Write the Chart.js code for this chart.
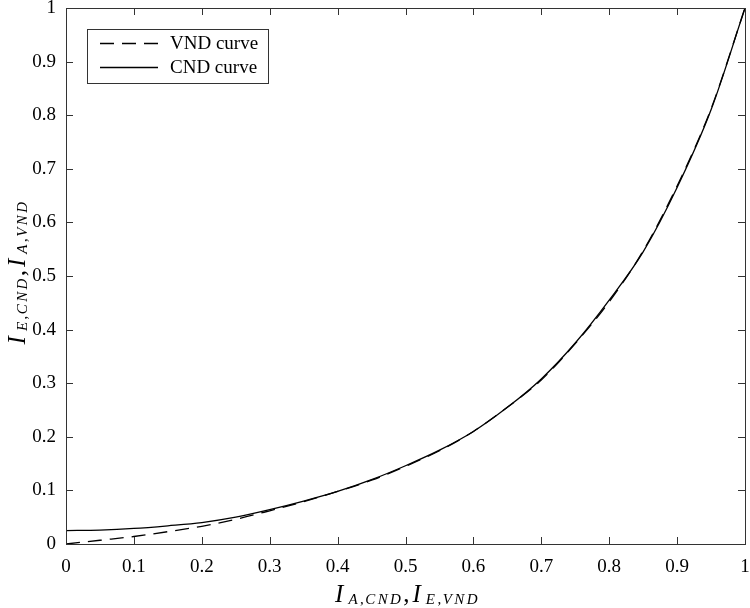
<!DOCTYPE html>
<html><head><meta charset="utf-8">
<script src="https://cdn.jsdelivr.net/npm/chart.js@4.4.0/dist/chart.umd.min.js"></script>
<style>html,body{margin:0;padding:0;background:#fff;}canvas{display:block;}</style>
</head><body>
<canvas id="c" width="750" height="608"></canvas>
<script>
// ---- data ----
const xValues   = [0, 0.05, 0.1, 0.15, 0.2, 0.25, 0.3, 0.35, 0.4, 0.45, 0.5, 0.55, 0.6, 0.65, 0.7, 0.75, 0.8, 0.85, 0.9, 0.95, 1.0];
const vndValues = [0, 0.007, 0.014, 0.023, 0.033, 0.046, 0.062, 0.079, 0.098, 0.119, 0.145, 0.174, 0.210, 0.255, 0.306, 0.374, 0.452, 0.547, 0.668, 0.812, 1.0];
const cndValues = [0.025, 0.026, 0.029, 0.034, 0.040, 0.050, 0.064, 0.080, 0.098, 0.120, 0.146, 0.175, 0.210, 0.255, 0.308, 0.375, 0.455, 0.545, 0.665, 0.810, 1.0];
const seriesNames = ['VND curve', 'CND curve'];
const xTickLabels = ['0','0.1','0.2','0.3','0.4','0.5','0.6','0.7','0.8','0.9','1'];
const yTickLabels = ['0','0.1','0.2','0.3','0.4','0.5','0.6','0.7','0.8','0.9','1'];
const xTitleParts = [{t:'I', sub:'A,CND'}, {t:','}, {t:'I', sub:'E,VND'}];
const yTitleParts = [{t:'I', sub:'E,CND'}, {t:','}, {t:'I', sub:'A,VND'}];

const FONT = '"Liberation Serif", "Times New Roman", serif';
const AXIS_COLOR = '#333';

function toPoints(xs, ys){ return xs.map((x,i)=>({x:x, y:ys[i]})); }

// draws e.g. I_{A,CND},I_{E,VND} as real text with subscripts
function drawMath(ctx, parts, cx, cy, rot){
  const mainF = 'italic 25px ' + FONT, subF = 'italic 15px ' + FONT, comF = '25px ' + FONT;
  const segs = [];
  let total = 0;
  parts.forEach(p => {
    if (p.t === ',') {
      ctx.font = comF;
      segs.push({text:',', font:comF, dx:total, dy:0});
      total += ctx.measureText(',').width + 3;
    } else {
      ctx.font = mainF;
      segs.push({text:p.t, font:mainF, dx:total, dy:0});
      total += ctx.measureText(p.t).width + 5;
    }
    if (p.sub){
      for (const ch of p.sub) {
        const isComma = ch === ',';
        const f = isComma ? '15px ' + FONT : subF;
        ctx.font = f;
        segs.push({text:ch, font:f, dx:total, dy:2});
        total += ctx.measureText(ch).width + (isComma ? 1.5 : 2.4);
      }
    }
  });
  ctx.save();
  ctx.translate(cx, cy);
  ctx.rotate(rot);
  ctx.fillStyle = '#000';
  ctx.textBaseline = 'alphabetic';
  ctx.textAlign = 'left';
  segs.forEach(s => { ctx.font = s.font; ctx.fillText(s.text, -total/2 + s.dx, s.dy); });
  ctx.restore();
}

const decorPlugin = {
  id: 'decor',
  afterDraw(chart){
    const ctx = chart.ctx, a = chart.chartArea;
    const xs = chart.scales.x, ys = chart.scales.y;
    ctx.save();
    // frame
    ctx.strokeStyle = AXIS_COLOR; ctx.lineWidth = 1;
    ctx.strokeRect(Math.round(a.left)+0.5, Math.round(a.top)+0.5, Math.round(a.right-a.left), Math.round(a.bottom-a.top));
    // inward ticks on all four sides
    const L = 7;
    ctx.beginPath();
    xs.ticks.forEach(t => {
      const px = Math.round(xs.getPixelForValue(t.value)) + 0.5;
      ctx.moveTo(px, a.bottom); ctx.lineTo(px, a.bottom - L);
      ctx.moveTo(px, a.top); ctx.lineTo(px, a.top + L);
    });
    ys.ticks.forEach(t => {
      const py = Math.round(ys.getPixelForValue(t.value)) + 0.5;
      ctx.moveTo(a.left, py); ctx.lineTo(a.left + L, py);
      ctx.moveTo(a.right, py); ctx.lineTo(a.right - L, py);
    });
    ctx.stroke();
    // legend
    const bx = 87.5, by = 29.5, bw = 181, bh = 54;
    ctx.fillStyle = '#fff';
    ctx.fillRect(bx, by, bw, bh);
    ctx.strokeStyle = AXIS_COLOR;
    ctx.strokeRect(bx, by, bw, bh);
    chart.data.datasets.forEach((ds, i) => {
      const y = 43.5 + i*24;
      ctx.strokeStyle = ds.borderColor; ctx.lineWidth = ds.borderWidth;
      ctx.setLineDash(ds.borderDash || []);
      ctx.beginPath(); ctx.moveTo(100, y); ctx.lineTo(158, y); ctx.stroke();
      ctx.setLineDash([]);
      ctx.fillStyle = '#000'; ctx.font = '19px ' + FONT;
      ctx.textBaseline = 'middle'; ctx.textAlign = 'left';
      ctx.fillText(ds.label, 170, y + 1);
    });
    // axis titles
    drawMath(ctx, xTitleParts, (a.left + a.right)/2 + 2, 602, 0);
    drawMath(ctx, yTitleParts, 25, (a.top + a.bottom)/2 - 4, -Math.PI/2);
    ctx.restore();
  }
};

new Chart(document.getElementById('c'), {
  type: 'scatter',
  data: {
    datasets: [
      { label: seriesNames[0], data: toPoints(xValues, vndValues), showLine: true, borderColor: '#000', borderWidth: 1.3, borderDash: [14, 8], pointRadius: 0, cubicInterpolationMode: 'monotone', fill: false },
      { label: seriesNames[1], data: toPoints(xValues, cndValues), showLine: true, borderColor: '#000', borderWidth: 1.3, pointRadius: 0, cubicInterpolationMode: 'monotone', fill: false }
    ]
  },
  options: {
    responsive: false,
    animation: false,
    devicePixelRatio: 1,
    layout: { padding: { left: 0, right: 5, top: 8, bottom: 0 } },
    plugins: { legend: { display: false }, tooltip: { enabled: false } },
    scales: {
      x: {
        type: 'linear', min: 0, max: 1,
        grid: { display: false, drawTicks: false },
        border: { display: false },
        ticks: { stepSize: 0.1, padding: 12, color: '#000', font: { family: FONT, size: 19 }, maxRotation: 0,
                 callback: (v, i) => xTickLabels[i] },
        afterFit: s => { s.height = 64; s.paddingLeft = 0; s.paddingRight = 0; }
      },
      y: {
        type: 'linear', min: 0, max: 1,
        grid: { display: false, drawTicks: false },
        border: { display: false },
        ticks: { stepSize: 0.1, padding: 10, color: '#000', font: { family: FONT, size: 19 },
                 callback: (v, i) => yTickLabels[i] },
        afterFit: s => { s.width = 66; s.paddingTop = 0; s.paddingBottom = 0; }
      }
    }
  },
  plugins: [decorPlugin]
});
</script>
</body></html>
